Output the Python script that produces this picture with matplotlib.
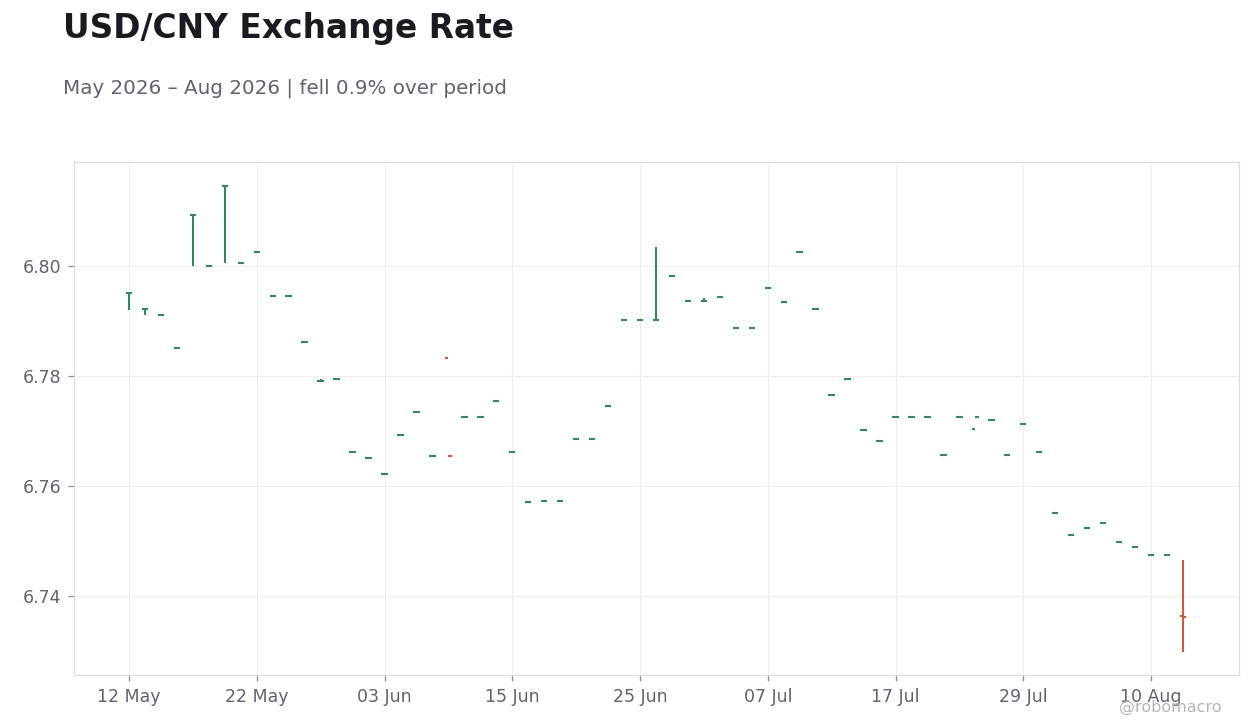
import matplotlib
matplotlib.use("Agg")
import matplotlib.pyplot as plt
import numpy as np
import pandas as pd

# ---- data ----
start_date = "2026-05-12"
n_days = 67
opens = [6.7950, 6.7921, 6.7910, 6.7851, 6.8093, 6.8000, 6.8146, 6.8006, 6.8026, 6.7946,
         6.7946, 6.7861, 6.7790, 6.7795, 6.7662, 6.7651, 6.7622, 6.7693, 6.7735, 6.7655,
         6.7833, 6.7726, 6.7726, 6.7755, 6.7661, 6.7570, 6.7573, 6.7573, 6.7686, 6.7686,
         6.7746, 6.7901, 6.7901, 6.7901, 6.7981, 6.7937, 6.7937, 6.7943, 6.7888, 6.7888,
         6.7959, 6.7935, 6.8026, 6.7922, 6.7766, 6.7795, 6.7701, 6.7682, 6.7726, 6.7726,
         6.7726, 6.7657, 6.7726, 6.7703, 6.7719, 6.7657, 6.7712, 6.7662, 6.7550, 6.7510,
         6.7524, 6.7533, 6.7497, 6.7488, 6.7475, 6.7475, 6.7364]
highs = [6.7950, 6.7921, 6.7910, 6.7851, 6.8093, 6.8000, 6.8146, 6.8006, 6.8026, 6.7946,
         6.7946, 6.7861, 6.7794, 6.7795, 6.7662, 6.7651, 6.7622, 6.7693, 6.7735, 6.7655,
         6.7655, 6.7726, 6.7726, 6.7755, 6.7661, 6.7570, 6.7573, 6.7573, 6.7686, 6.7686,
         6.7746, 6.7901, 6.7901, 6.8035, 6.7981, 6.7937, 6.7942, 6.7943, 6.7888, 6.7888,
         6.7959, 6.7935, 6.8026, 6.7922, 6.7766, 6.7795, 6.7701, 6.7682, 6.7726, 6.7726,
         6.7726, 6.7657, 6.7726, 6.7726, 6.7719, 6.7657, 6.7712, 6.7662, 6.7550, 6.7510,
         6.7524, 6.7533, 6.7497, 6.7488, 6.7475, 6.7475, 6.7465]
lows = [6.7920, 6.7910, 6.7910, 6.7851, 6.8000, 6.8000, 6.8006, 6.8006, 6.8026, 6.7946,
        6.7946, 6.7861, 6.7790, 6.7795, 6.7662, 6.7651, 6.7622, 6.7693, 6.7735, 6.7655,
        6.7655, 6.7726, 6.7726, 6.7755, 6.7661, 6.7570, 6.7573, 6.7573, 6.7686, 6.7686,
        6.7746, 6.7901, 6.7901, 6.7901, 6.7981, 6.7937, 6.7937, 6.7943, 6.7888, 6.7888,
        6.7959, 6.7935, 6.8026, 6.7922, 6.7766, 6.7795, 6.7701, 6.7682, 6.7726, 6.7726,
        6.7726, 6.7657, 6.7726, 6.7726, 6.7719, 6.7657, 6.7712, 6.7662, 6.7550, 6.7510,
        6.7524, 6.7533, 6.7497, 6.7488, 6.7475, 6.7475, 6.7298]
closes = [6.7950, 6.7921, 6.7910, 6.7851, 6.8093, 6.8000, 6.8146, 6.8006, 6.8026, 6.7946,
          6.7946, 6.7861, 6.7790, 6.7795, 6.7662, 6.7651, 6.7622, 6.7693, 6.7735, 6.7655,
          6.7655, 6.7726, 6.7726, 6.7755, 6.7661, 6.7570, 6.7573, 6.7573, 6.7686, 6.7686,
          6.7746, 6.7901, 6.7901, 6.7901, 6.7981, 6.7937, 6.7937, 6.7943, 6.7888, 6.7888,
          6.7959, 6.7935, 6.8026, 6.7922, 6.7766, 6.7795, 6.7701, 6.7682, 6.7726, 6.7726,
          6.7726, 6.7657, 6.7726, 6.7726, 6.7719, 6.7657, 6.7712, 6.7662, 6.7550, 6.7510,
          6.7524, 6.7533, 6.7497, 6.7488, 6.7475, 6.7475, 6.7361]
y_ticks = [6.74, 6.76, 6.78, 6.80]
title = "USD/CNY Exchange Rate"
subtitle = "May 2026 \u2013 Aug 2026 | fell 0.9% over period"
watermark = "@robomacro"

# ---- styling ----
UP = "#2e8b57"
DOWN = "#cc5c3c"
GRID = "#eeeeee"
TEXT = "#5f6270"

dates = pd.bdate_range(start_date, periods=n_days)
x = np.arange(n_days)
o = np.array(opens); h = np.array(highs); l = np.array(lows); c = np.array(closes)
colors = np.where(c >= o, UP, DOWN)

fig = plt.figure(figsize=(12.6, 7.28), dpi=100)
fig.patch.set_facecolor("white")
ax = fig.add_axes([74/1260, 1-675/728, (1239-74)/1260, (675-162)/728])

hw = 0.2
ax.vlines(x, l, h, colors=colors, lw=1.5, capstyle="butt", zorder=3)
ax.hlines(o, x - hw, x, colors=colors, lw=1.5, zorder=3)
ax.hlines(c, x, x + hw, colors=colors, lw=1.5, zorder=3)

ax.set_xlim(-3.444, 69.51)
ax.set_ylim(6.7256, 6.8189)

tick_idx = x[::8]
ax.set_xticks(tick_idx)
ax.set_xticklabels([dates[i].strftime("%d %b") for i in tick_idx])
ax.set_yticks(y_ticks)
ax.set_yticklabels([f"{v:.2f}" for v in y_ticks])

ax.grid(True, color=GRID, lw=0.8, zorder=0)
ax.set_axisbelow(True)
for s in ax.spines.values():
    s.set_color("#dcdcdc")
    s.set_linewidth(0.9)
ax.tick_params(axis="both", colors="#8a8d98", labelcolor=TEXT, labelsize=12.5,
               length=4, width=0.9, pad=5)

fig.text(63/1260, 1-38/728, title, fontsize=23.7, fontweight="bold",
         color="#1a1b20", va="baseline", ha="left")
fig.text(63/1260, 1-93/728, subtitle, fontsize=14.3, color=TEXT,
         va="baseline", ha="left")
fig.text(1222/1260, 1-712/728, watermark, fontsize=11.5, color="#b3b5bd",
         va="baseline", ha="right")

fig.savefig("out.png", dpi=100, facecolor="white")
